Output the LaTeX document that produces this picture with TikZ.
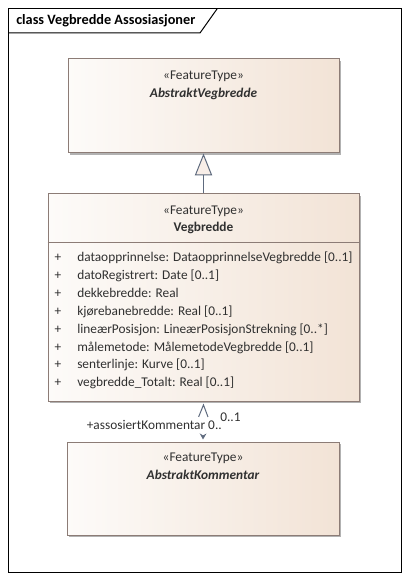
\documentclass[tikz,border=0pt]{standalone}
\usepackage{fontspec}
\setmainfont{Carlito}
\usepackage{tikz}
\usetikzlibrary{arrows.meta,shadows}

\definecolor{boxline}{HTML}{8C7C76}
\definecolor{boxleft}{HTML}{FDFBF9}
\definecolor{boxright}{HTML}{F2E3D6}
\definecolor{connline}{HTML}{5E6A7E}
\definecolor{genfill}{HTML}{F8EEE8}
\definecolor{umltext}{HTML}{303030}

\begin{document}
\begin{tikzpicture}[x=0.75pt,y=-0.75pt,
                    class node/.style={rectangle,draw=boxline,line width=0.75pt,
                      left color=boxleft,right color=boxright,
                      drop shadow={shadow xshift=1.5pt,shadow yshift=-1.5pt,fill=black!30,opacity=1}},
                    text node/.style={inner sep=0pt,text=umltext,text height=1.5ex,text depth=.3ex,
                      font=\fontsize{10}{12}\selectfont},
                    name node/.style={text node,font=\fontsize{10}{12}\selectfont\bfseries},
                    gen/.style={draw=connline,line width=0.75pt,
                      -{Triangle[open,length=16.5pt,width=13pt,fill=genfill]}},
                    assoc/.style={draw=white,line width=0.75pt,
                      {Straight Barb[length=9pt,width=7pt,color=connline]}-{Stealth[length=4.5pt,width=5pt,color=connline]}}]
  \useasboundingbox (0,0) rectangle (409,580);
  %frame%
  \draw[line width=0.75pt] (8,9) rectangle (401,572);
  \draw[line width=0.75pt] (8,33) -- (200,33) -- (217,9);
  \node[name node,anchor=west,text=black,font=\fontsize{10.7}{13}\selectfont\bfseries] (title) at (16,21) {class Vegbredde Assosiasjoner};

  %classes%
  \node[class node,minimum width=203.25pt,minimum height=70.5pt] (abstraktVegbredde) at (203.5,106) {};
  \node[class node,minimum width=233.25pt,minimum height=155.25pt] (vegbredde) at (203.5,297.5) {};
  \node[class node,minimum width=204pt,minimum height=69.75pt] (abstraktKommentar) at (203,488.5) {};

  \node[text node] (stereo1) at (203.5,76) {«FeatureType»};
  \node[name node] (navn1) at (203.5,94) {\itshape AbstraktVegbredde};
  \node[text node] (stereo2) at (203.5,211) {«FeatureType»};
  \node[name node] (navn2) at (203.5,228) {Vegbredde};
  \node[text node] (stereo3) at (203,458) {«FeatureType»};
  \node[name node] (navn3) at (203,476) {\itshape AbstraktKommentar};

  \draw[draw=boxline,line width=0.75pt] (vegbredde.west |- 0,243) -- (vegbredde.east |- 0,243);
  \foreach \attr [count=\i] in {{dataopprinnelse: DataopprinnelseVegbredde [0..1]},
      {datoRegistrert: Date [0..1]},{dekkebredde: Real},{kjørebanebredde: Real [0..1]},
      {lineærPosisjon: LineærPosisjonStrekning [0..*]},{målemetode: MålemetodeVegbredde [0..1]},
      {senterlinje: Kurve [0..1]},{vegbredde\_Totalt: Real [0..1]}}
  {
    \node[text node] (pluss\i) at (58,240.14+\i*17.86) {+};
    \node[text node,anchor=west] (attr\i) at (77,240.14+\i*17.86) {\attr};
  }

  %connectors%
  \draw[gen] (vegbredde.north) -- (abstraktVegbredde.south);
  \draw[assoc] ([yshift=-1.5pt]vegbredde.south) -- ([yshift=1.5pt]abstraktKommentar.north);
  \node[text node,anchor=east] (rolle) at (222,426) {+assosiertKommentar 0..};
  \node[text node,anchor=west] (mult) at (220,418) {0..1};
\end{tikzpicture}
\end{document}
